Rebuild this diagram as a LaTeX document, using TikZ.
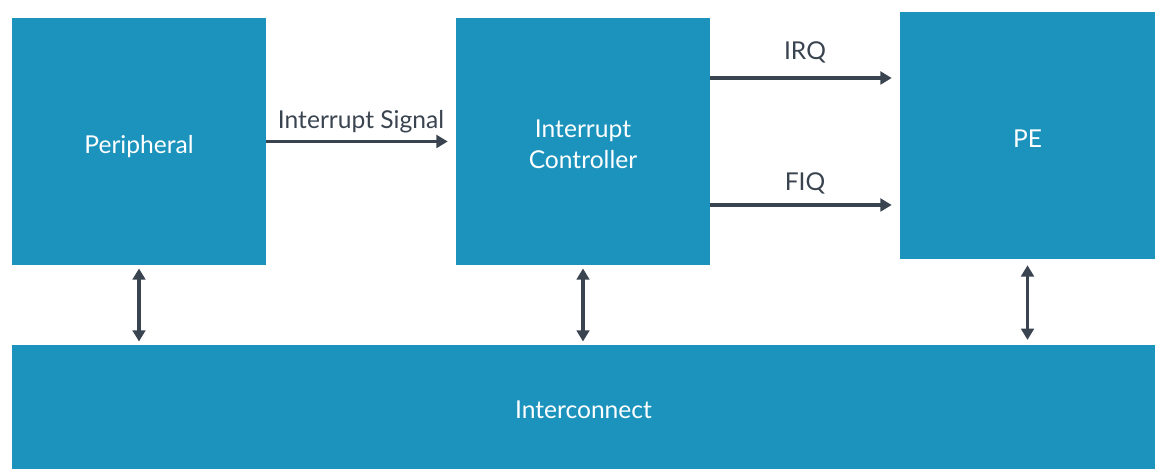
\documentclass[tikz,border=0pt]{standalone}
\usepackage{fontspec}
\setmainfont{Lato}
\usetikzlibrary{arrows.meta}
\definecolor{blockblue}{HTML}{1B93BD}
\definecolor{linegray}{HTML}{3A4450}
% lower block text a little without changing the box size
\newcommand{\lowtext}[1]{\raisebox{-0.14cm}[\height][\depth]{\begin{tabular}{@{}c@{}}#1\end{tabular}}}
\tikzset{
  block/.style={fill=blockblue, text=white, align=center, inner sep=0pt, font=\fontsize{17.5}{22}\selectfont},
  link/.style={draw=linegray, line width=2.3pt, -{Triangle[length=8pt,width=9pt]}},
  duplex/.style={draw=linegray, line width=2.3pt, {Triangle[length=8pt,width=9pt]}-{Triangle[length=8pt,width=9pt]}},
  tag/.style={text=linegray, font=\fontsize{17.5}{22}\selectfont}
}
\begin{document}
\begin{tikzpicture}
\useasboundingbox (0,0) rectangle (29.25,11.9);
\node[block, minimum width=6.35cm, minimum height=6.175cm] (periph) at (3.475,8.3625) {\lowtext{Peripheral}};
\node[block, minimum width=6.35cm, minimum height=6.175cm] (ctrl) at (14.575,8.3625) {\lowtext{Interrupt\\Controller}};
\node[block, minimum width=6.375cm, minimum height=6.175cm] (pe) at (25.6875,8.5125) {\lowtext{PE}};
\node[block, minimum width=28.575cm, minimum height=3.1cm] (bus) at (14.5875,1.725) {\lowtext{Interconnect}};
\coordinate (irq) at (14.575,9.95);
\coordinate (fiq) at (14.575,6.775);
\draw[link, shorten >=0.2cm] (periph.east) -- (ctrl.west) node[tag, midway, above=0.06cm] {Interrupt Signal};
\draw[link, shorten >=0.2cm] (irq -| ctrl.east) -- (irq -| pe.west) node[tag, midway, above=0.22cm] {IRQ};
\draw[link, shorten >=0.2cm] (fiq -| ctrl.east) -- (fiq -| pe.west) node[tag, midway, above=0.12cm] {FIQ};
\draw[duplex, shorten <=0.08cm, shorten >=0.08cm] (periph.south) -- (periph.south |- bus.north);
\draw[duplex, shorten <=0.08cm, shorten >=0.08cm] (ctrl.south) -- (ctrl.south |- bus.north);
\draw[duplex, shorten <=0.15cm, shorten >=0.12cm] (pe.south) -- (pe.south |- bus.north);
\end{tikzpicture}
\end{document}
